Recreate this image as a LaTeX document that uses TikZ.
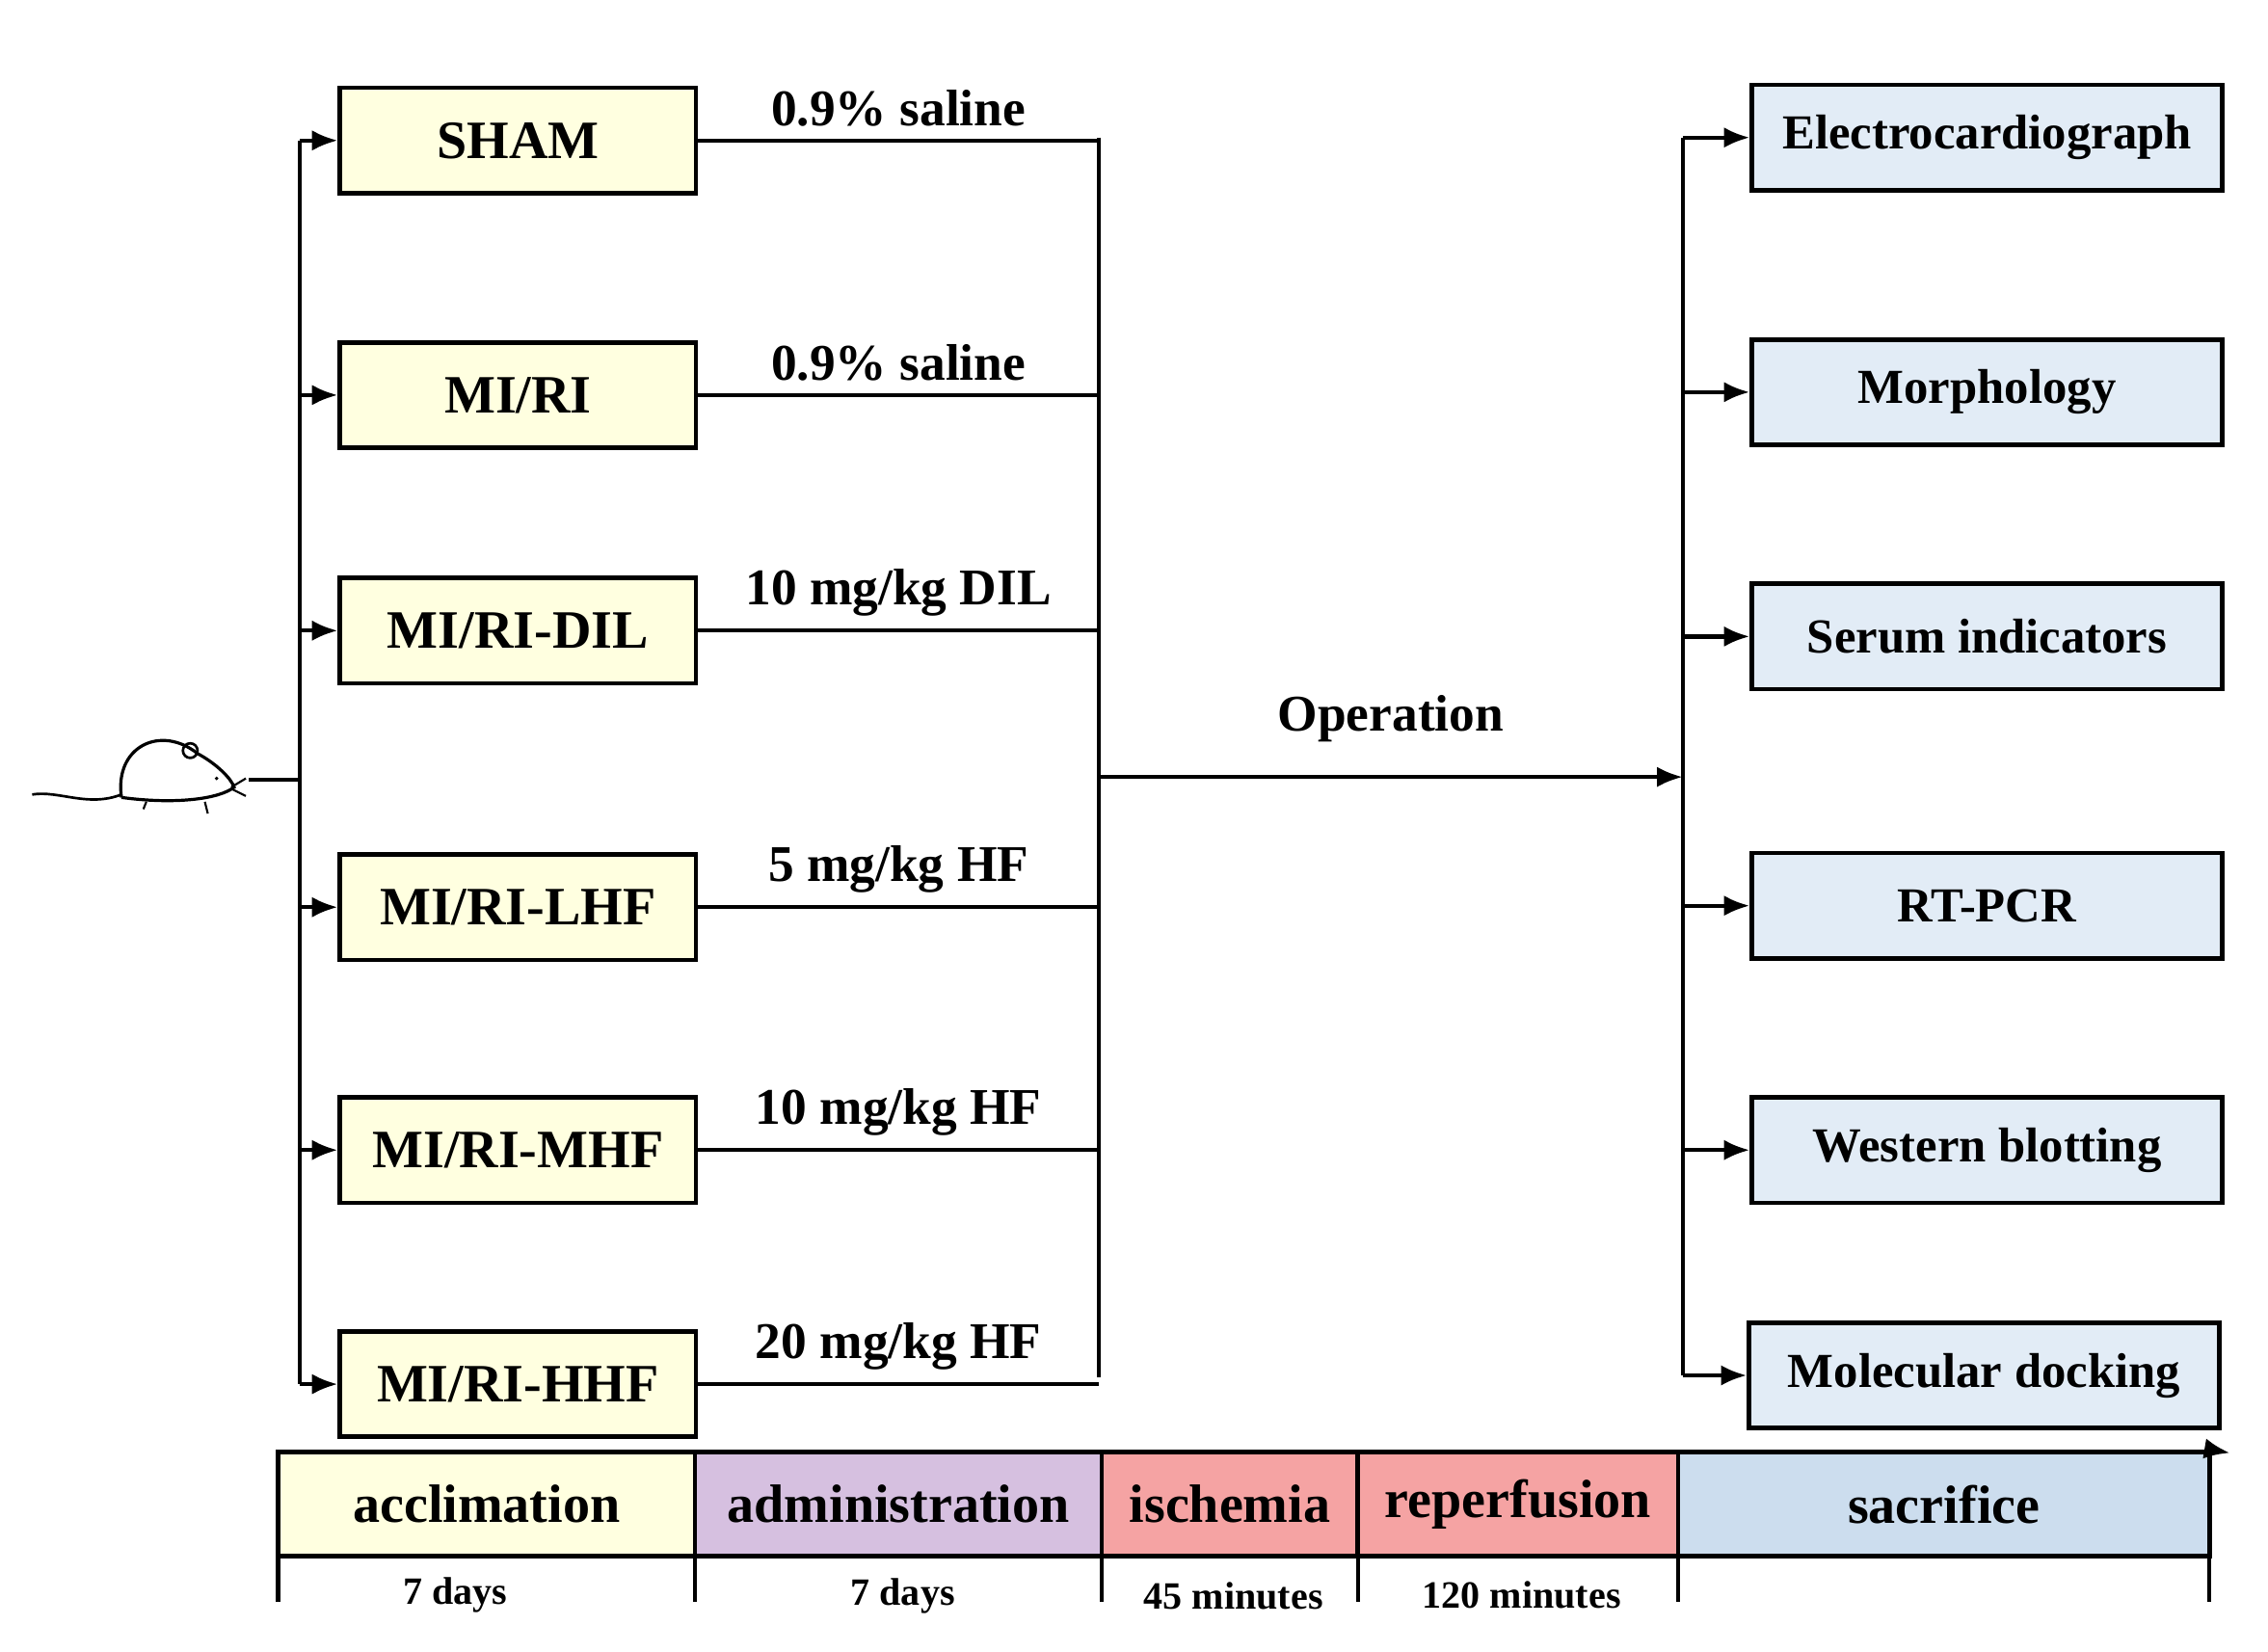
\documentclass[tikz,border=0pt]{standalone}
\usepackage{fontspec}
\setmainfont{Liberation Serif}
\usetikzlibrary{arrows.meta}
\definecolor{ybox}{HTML}{FFFFE0}
\definecolor{bbox}{HTML}{E2ECF6}
\definecolor{pur}{HTML}{D6C0E0}
\definecolor{pink}{HTML}{F5A3A3}
\definecolor{sac}{HTML}{CCDDEE}
\begin{document}
\begin{tikzpicture}[x=0.01cm,y=-0.01cm,
 lbox/.style={draw,line width=0.9pt,fill=ybox,inner sep=1pt,minimum width=2.43cm,minimum height=0.72cm,font=\bfseries\fontsize{10.5}{12}\selectfont},
 rbox/.style={draw,line width=0.9pt,fill=bbox,inner sep=1pt,minimum width=3.21cm,minimum height=0.72cm,font=\bfseries\fontsize{9.5}{11}\selectfont},
 seg/.style={draw,line width=0.9pt,inner sep=1pt,minimum height=0.71cm,font=\bfseries\fontsize{10.5}{12}\selectfont},
 lab/.style={font=\bfseries\fontsize{10}{12}\selectfont},
 day/.style={font=\bfseries\fontsize{7.5}{9}\selectfont},
 ln/.style={line width=0.8pt},
 arr/.style={ln,-{Latex[length=5pt,width=4pt]}}]
\useasboundingbox (0,0) rectangle (1550,1129);
% left boxes
\node[lbox] (a) at (354,96) {SHAM};
\node[lbox] (b) at (354,270) {MI/RI};
\node[lbox] (c) at (354,431) {MI/RI-DIL};
\node[lbox] (d) at (354,620) {MI/RI-LHF};
\node[lbox] (e) at (354,786) {MI/RI-MHF};
\node[lbox] (f) at (354,946) {MI/RI-HHF};
\coordinate (bt) at (205,96); \coordinate (bb) at (205,946); \coordinate (bm) at (205,533);
\coordinate (ms) at (170,533);
\draw[ln] (bt)--(bb); \draw[ln] (ms)--(bm);
\foreach \n in {a,b,c,d,e,f} \draw[arr] (bt|-\n.west)--(\n.west);
% mouse
\draw[line width=0.6pt,fill=white] (83,545) .. controls (78,510) and (110,495) .. (135,515) .. controls (148,522) and (158,532) .. (160,538) .. controls (150,546) and (120,550) .. (83,545);
\draw[line width=0.5pt] (83,543) .. controls (60,552) and (40,540) .. (22,543);
\draw[line width=0.5pt] (130,513) circle (5);
\fill (148,532) circle (1.3);
\draw[line width=0.4pt] (158,538)--(168,532) (158,539)--(168,544) (100,548)--(98,553) (140,548)--(142,556);
% right side
\coordinate (vt) at (751,94); \coordinate (vb) at (751,941);
\draw[ln] (vt)--(vb);
\foreach \n/\t in {a/{0.9\% saline},b/{0.9\% saline},c/{10 mg/kg DIL},d/{5 mg/kg HF},e/{10 mg/kg HF},f/{20 mg/kg HF}}{
 \draw[ln] (\n.east)--(vt|-\n.east) node[lab,midway,above=-1pt] {\t};}
\coordinate (op) at (751,531);
\node[rbox] (g) at (1358,94) {Electrocardiograph};
\node[rbox] (h) at (1358,268) {Morphology};
\node[rbox] (i) at (1358,435) {Serum indicators};
\node[rbox] (j) at (1358,619) {RT-PCR};
\node[rbox] (k) at (1358,786) {Western blotting};
\node[rbox] (l) at (1356,940) {Molecular docking};
\coordinate (rt) at (1150,94); \coordinate (rb) at (1150,940); \coordinate (rm) at (1150,531);
\draw[arr] (op)--(rm) node[lab,midway,above=3pt] {Operation};
\draw[ln] (rt)--(rb);
\foreach \n in {g,h,i,j,k,l} \draw[arr] (rt|-\n.west)--(\n.west);
% timeline
\node[seg,fill=ybox,minimum width=2.85cm] (t1) at (332.5,1028) {acclimation};
\node[seg,fill=pur,minimum width=2.78cm] (t2) at (614,1028) {administration};
\node[seg,fill=pink,minimum width=1.75cm] (t3) at (840.5,1028) {ischemia};
\node[seg,fill=pink,minimum width=2.19cm] (t4) at (1037.5,1028) {reperfusion};
\node[seg,fill=sac,minimum width=3.63cm] (t5) at (1328.5,1028) {sacrifice};
\coordinate (ae) at (1524,993);
\draw[arr] (t5.north east)--(ae);
\foreach \x in {190,475,753,928,1147,1510} \draw[ln] (\x,1064)--(\x,1095);
\node[day] at (311,1090) {7 days};
\node[day] at (617,1091) {7 days};
\node[day] at (843,1091) {45 minutes};
\node[day] at (1040,1090) {120 minutes};
\end{tikzpicture}
\end{document}
